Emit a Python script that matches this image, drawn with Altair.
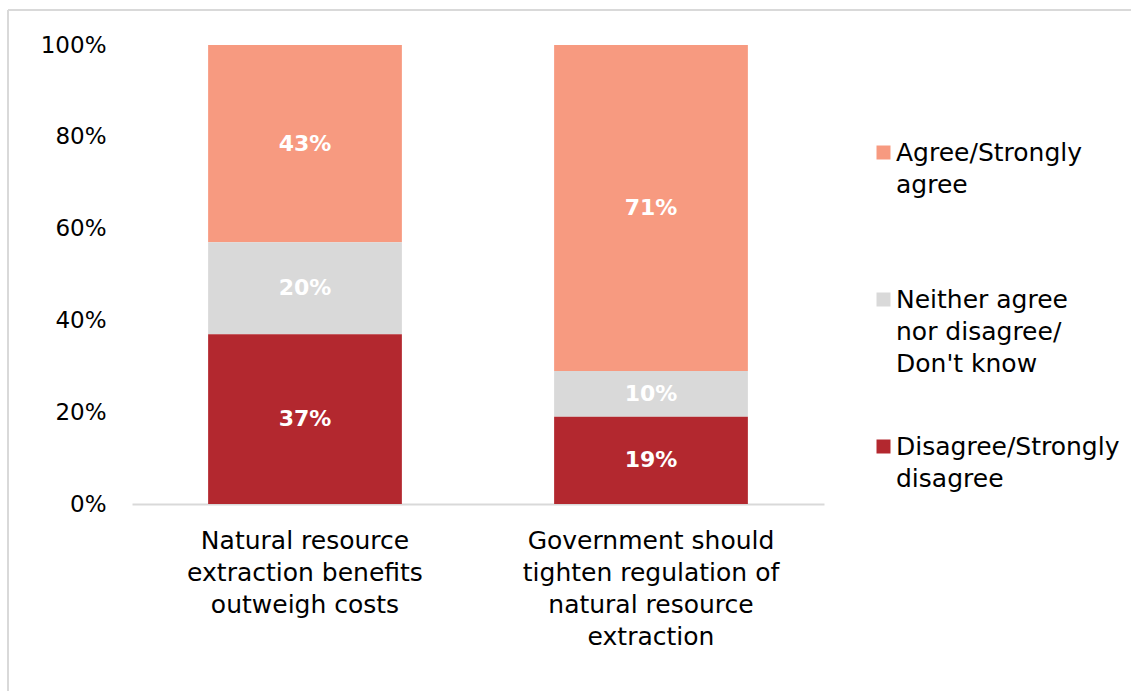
import altair as alt
import pandas as pd

categories = [
    "Natural resource|extraction benefits|outweigh costs",
    "Government should|tighten regulation of|natural resource|extraction",
]
legend_labels = ["Agree/Strongly|agree| ", "Neither agree|nor disagree/|Don't know", "Disagree/Strongly|disagree| "]
colors = ["#F79A80", "#D9D9D9", "#B3282F"]
stack_order = [3, 2, 1]

agree = [43, 71]
neither = [20, 10]
disagree = [37, 19]

rows = []
for i, c in enumerate(categories):
    for vals, lab, o in zip([agree, neither, disagree], legend_labels, stack_order):
        rows.append({"category": c, "response": lab, "value": vals[i] / 100, "ord": o})
df = pd.DataFrame(rows)

FONT = "DejaVu Sans"

x_enc = alt.X(
    "category:N",
    sort=categories,
    title=None,
    scale=alt.Scale(paddingInner=0.44, paddingOuter=0.22),
    axis=alt.Axis(
        labelExpr="split(datum.label, '|')",
        labelAngle=0,
        labelFont=FONT,
        labelFontSize=25,
        labelLineHeight=32,
        labelColor="#000000",
        labelPadding=24,
        labelLimit=400,
        ticks=False,
        domainColor="#D9D9D9",
        domainWidth=2,
        grid=False,
    ),
)

bars = alt.Chart(df).mark_bar().encode(
    x=x_enc,
    y=alt.Y(
        "value:Q",
        stack="zero",
        title=None,
        scale=alt.Scale(domain=[0, 1]),
        axis=alt.Axis(
            format=".0%",
            values=[0, 0.2, 0.4, 0.6, 0.8, 1.0],
            labelFont=FONT,
            labelFontSize=23,
            labelColor="#000000",
            labelPadding=26,
            ticks=False,
            domain=False,
            grid=False,
        ),
    ),
    color=alt.Color(
        "response:N",
        sort=legend_labels,
        scale=alt.Scale(domain=legend_labels, range=colors),
        legend=alt.Legend(
            title=None,
            orient="none",
            legendX=739,
            legendY=95,
            labelExpr="split(datum.label, '|')",
            labelFont=FONT,
            labelFontSize=25,
            labelColor="#000000",
            labelBaseline="middle",
            labelOffset=0,
            labelLimit=400,
            symbolType="square",
            symbolSize=196,
            symbolStrokeWidth=0,
            symbolOffset=0,
            rowPadding=57,
        ),
    ),
    order=alt.Order("ord:Q"),
)

labels = alt.Chart(df).transform_stack(
    stack="value", groupby=["category"], as_=["v0", "v1"], sort=[alt.SortField("ord")]
).transform_calculate(
    mid="(datum.v0 + datum.v1) / 2",
    txt="format(datum.value, '.0%')",
).mark_text(
    font=FONT, fontSize=22, fontWeight="bold", color="white", baseline="middle"
).encode(
    x=alt.X("category:N", sort=categories),
    y=alt.Y("mid:Q"),
    text="txt:N",
)

border_left = alt.Chart(df).mark_rule(color="#D9D9D9", strokeWidth=2, clip=False).encode(
    x=alt.value(-124), y=alt.value(-35), y2=alt.value(660)
)
border_top = alt.Chart(df).mark_rule(color="#D9D9D9", strokeWidth=2, clip=False).encode(
    x=alt.value(-124), x2=alt.value(1010), y=alt.value(-35)
)

chart = alt.layer(bars, labels, border_left, border_top).properties(
    width=692,
    height=459,
    autosize=alt.AutoSizeParams(type="none"),
    padding={"left": 132, "top": 45, "right": 307, "bottom": 187},
).configure(
    style={"guide-label": {"lineHeight": 32}},
    view={"strokeWidth": 0},
)

chart.save("out.html", embed_options={"renderer": "svg", "actions": False})
